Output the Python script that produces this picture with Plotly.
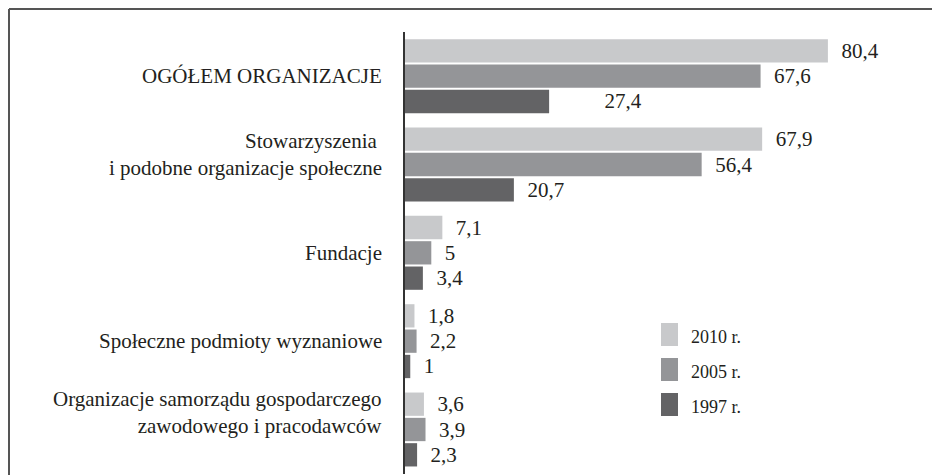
import plotly.graph_objects as go

# Data
categories = [
    "OGÓŁEM ORGANIZACJE",
    "Stowarzyszenia\u00a0<br>i podobne organizacje społeczne",
    "Fundacje",
    "Społeczne podmioty wyznaniowe",
    "Organizacje samorządu gospodarczego<br>zawodowego i pracodawców",
]
series_names = ["2010 r.", "2005 r.", "1997 r."]
values_2010 = [80.4, 67.9, 7.1, 1.8, 3.6]
values_2005 = [67.6, 56.4, 5, 2.2, 3.9]
values_1997 = [27.4, 20.7, 3.4, 1, 2.3]

COLORS = {
    'light': '#c8c9cb',
    'mid': '#949598',
    'dark': '#636365',
    'text': '#231f20',
    'frame': '#555555',
}
FONT_FAMILY = "Liberation Serif, serif"

# page body has an 8px margin, so the figure is shrunk and shifted by it
OFF = 8
W, H = 940 - OFF, 475 - OFF
M = dict(l=405 - OFF, r=9, t=32 - OFF, b=1)
PW = W - M['l'] - M['r']
PH = H - M['t'] - M['b']


def fig_x(x):
    # figure pixel -> paper x
    return (x - M['l']) / PW


def fig_y(y):
    # figure pixel -> paper y
    return (H - M['b'] - y) / PH


def px_x(px):
    # screen pixel -> paper x
    return fig_x(px - OFF)


def px_y(py):
    # screen pixel -> paper y
    return fig_y(py - OFF)


def fmt(v, pad=2):
    return "\u00a0" * pad + f"{v:g}".replace(".", ",")


# extra gap before some value labels (as in the original layout)
extra_pad = {(2, 0): 10}
# the two-line category labels sit a bit higher than their bar groups
label_yshift = [0, 10, 0, 0, 17]

fig = go.Figure()
series = [values_2010, values_2005, values_1997]
bar_colors = [COLORS['light'], COLORS['mid'], COLORS['dark']]
for i, (name, vals, col) in enumerate(zip(series_names, series, bar_colors)):
    texts = [fmt(v, extra_pad.get((i, j), 2)) for j, v in enumerate(vals)]
    fig.add_trace(go.Bar(
        y=categories, x=vals, name=name, orientation='h',
        marker=dict(color=col, line_width=0),
        text=texts, textposition='outside', constraintext='none',
        cliponaxis=False,
        textfont=dict(family=FONT_FAMILY, size=21, color=COLORS['text']),
        showlegend=False,
    ))

shapes = []
annotations = []

# category labels
for cat, ys in zip(categories, label_yshift):
    annotations.append(dict(xref='x', yref='y', x=0, y=cat, text=cat, showarrow=False,
                            xanchor='right', yanchor='middle', align='right',
                            xshift=-21, yshift=ys,
                            font=dict(family=FONT_FAMILY, size=21, color=COLORS['text'])))

# hand-drawn legend (tall swatches like the original)
legend_tops = [323, 358, 393]
for name, col, top in zip(series_names, bar_colors, legend_tops):
    shapes.append(dict(type='rect', xref='paper', yref='paper',
                       x0=px_x(661), x1=px_x(678), y0=px_y(top), y1=px_y(top + 23),
                       fillcolor=col, line_width=0))
    annotations.append(dict(xref='paper', yref='paper', x=px_x(689), y=px_y(top + 14),
                            text=name, showarrow=False, xanchor='left', yanchor='middle',
                            font=dict(family=FONT_FAMILY, size=18, color=COLORS['text'])))

# open frame: top and left edges
shapes.append(dict(type='line', xref='paper', yref='paper', x0=fig_x(1), x1=fig_x(W),
                   y0=fig_y(1), y1=fig_y(1), line=dict(color=COLORS['frame'], width=2)))
shapes.append(dict(type='line', xref='paper', yref='paper', x0=fig_x(1), x1=fig_x(1),
                   y0=fig_y(1), y1=fig_y(H), line=dict(color=COLORS['frame'], width=2)))

fig.update_layout(
    width=W, height=H,
    margin=M,
    paper_bgcolor='white', plot_bgcolor='white',
    font=dict(family=FONT_FAMILY, color=COLORS['text']),
    barmode='group', bargap=0.14, bargroupgap=0.08,
    shapes=shapes, annotations=annotations,
    xaxis=dict(range=[0, 100], visible=False, fixedrange=True),
    yaxis=dict(autorange='reversed', showline=True, linecolor='#333333', linewidth=2,
               showgrid=False, ticks='', showticklabels=False, fixedrange=True),
)

fig.write_html("out.html")
